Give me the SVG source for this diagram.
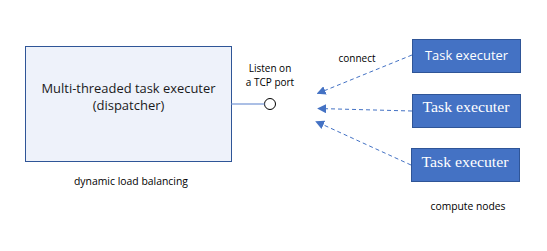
<svg xmlns="http://www.w3.org/2000/svg" width="547" height="251" viewBox="0 0 547 251">
<defs>
<marker id="ah" viewBox="0 0 10 10" refX="9" refY="5" markerWidth="9" markerHeight="9" markerUnits="userSpaceOnUse" orient="auto">
<path d="M0,0 L10,5 L0,10 Z" fill="#4472C4"/>
</marker>
<style>
.lbl{font-family:"Open Sans","Liberation Sans",sans-serif;font-size:10px;fill:#000;text-anchor:middle}
.main{font-family:"Open Sans","Liberation Sans",sans-serif;font-size:13px;fill:#1a1a1a;text-anchor:middle}
.node{fill:#4472C4;stroke:#2F5597;stroke-width:1}
.tsans{font-family:"Open Sans","Liberation Sans",sans-serif;font-size:13px;fill:#fff;text-anchor:middle}
.tserif{font-family:"Liberation Serif","Times New Roman",serif;font-size:15.5px;fill:#fff;text-anchor:middle}
.dash{stroke:#4472C4;stroke-width:1;stroke-dasharray:4,3;fill:none;marker-end:url(#ah)}
</style>
</defs>
<rect width="547" height="251" fill="#fff"/>
<g id="dispatcher">
<rect x="25.5" y="46.5" width="206" height="115" fill="#EEF2FA" stroke="#2F5597" stroke-width="1"/>
<text class="main" x="128.5" y="93" textLength="174" lengthAdjust="spacingAndGlyphs">Multi-threaded task executer</text>
<text class="main" x="128.5" y="110">(dispatcher)</text>
</g>
<g id="port">
<circle cx="270" cy="104" r="5.5" fill="#fff" stroke="#000" stroke-width="1"/>
<text class="lbl" x="270" y="72">Listen on</text>
<text class="lbl" x="270" y="86">a TCP port</text>
</g>
<g id="executer1">
<rect class="node" x="412.5" y="39.5" width="108" height="33"/>
<text class="tsans" x="466.5" y="59.5" textLength="83" lengthAdjust="spacingAndGlyphs">Task executer</text>
</g>
<g id="executer2">
<rect class="node" x="412.5" y="94.5" width="108" height="33"/>
<text class="tserif" x="466" y="112" textLength="87" lengthAdjust="spacingAndGlyphs">Task executer</text>
</g>
<g id="executer3">
<rect class="node" x="411.5" y="148.5" width="108" height="33"/>
<text class="tserif" x="465" y="166.5" textLength="87" lengthAdjust="spacingAndGlyphs">Task executer</text>
</g>
<g id="connectors">
<line x1="231.5" y1="104" x2="264.5" y2="104" stroke="#8FAADC" stroke-width="1.5"/>
<line class="dash" x1="412" y1="55" x2="317.5" y2="93.5"/>
<line class="dash" x1="412" y1="111" x2="318" y2="108.5"/>
<line class="dash" x1="411" y1="165" x2="316" y2="121.5"/>
<text class="lbl" x="357" y="61.5">connect</text>
</g>
<text class="lbl" x="131" y="184.5" textLength="114" lengthAdjust="spacingAndGlyphs">dynamic load balancing</text>
<text class="lbl" x="468" y="210" textLength="75" lengthAdjust="spacingAndGlyphs">compute nodes</text>
</svg>
